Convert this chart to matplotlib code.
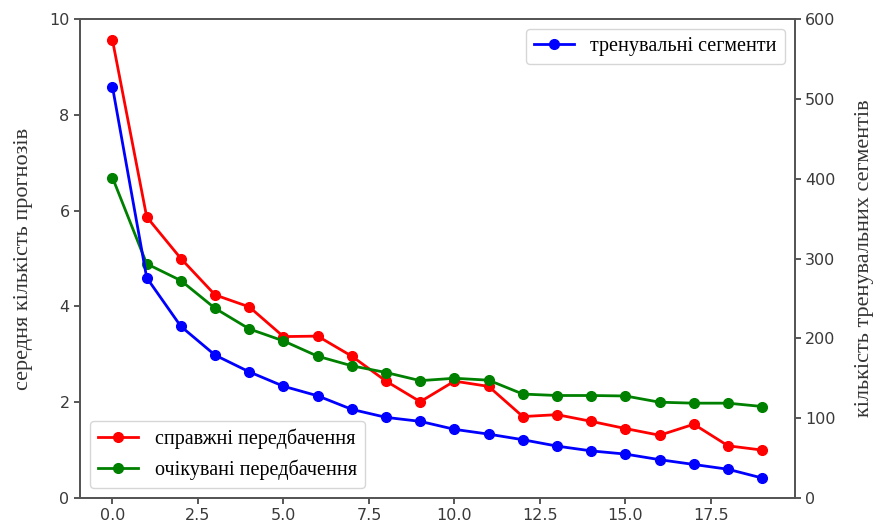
import matplotlib.pyplot as plt

# number of held-out steps on the x axis
steps = list(range(20))

# mean number of predictions (left axis)
real_preds = [9.56, 5.87, 5.00, 4.24, 3.99, 3.37, 3.38, 2.96, 2.44, 2.01,
              2.44, 2.33, 1.70, 1.74, 1.60, 1.45, 1.31, 1.54, 1.09, 1.00]
expected_preds = [6.69, 4.89, 4.54, 3.96, 3.53, 3.28, 2.96, 2.76, 2.62, 2.45,
                  2.50, 2.46, 2.17, 2.14, 2.14, 2.13, 2.00, 1.98, 1.98, 1.91]

# number of training segments (right axis)
train_segments = [515, 276, 215, 179, 158, 140, 128, 111, 101, 96,
                  86, 80, 73, 65, 59, 55, 48, 42, 36, 25]

serif = 'Liberation Serif'
tick_color = '#3a3a3a'

fig = plt.figure(figsize=(8.83, 5.30), dpi=100)
ax = fig.add_axes([0.0906, 0.0604, 0.8094, 0.9036])
ax2 = ax.twinx()

ax.plot(steps, real_preds, '-o', color='red', lw=2, ms=7, label='справжні передбачення')
ax.plot(steps, expected_preds, '-o', color='green', lw=2, ms=7, label='очікувані передбачення')
ax2.plot(steps, train_segments, '-o', color='blue', lw=2, ms=7, label='тренувальні сегменти')

ax.set_ylim(0, 10)
ax2.set_ylim(0, 600)
ax.set_xlim(-0.95, 19.95)

ax.set_ylabel('середня кількість прогнозів', family=serif, fontsize=16,
              color='#333333', labelpad=12)
ax2.set_ylabel('кількість тренувальних сегментів', family=serif, fontsize=16,
               color='#333333', labelpad=14)

for a in (ax, ax2):
    a.tick_params(colors=tick_color, labelsize=11.5, width=1.2, length=4)
    for s in a.spines.values():
        s.set_color('#555555')
        s.set_linewidth(1.3)

ax.legend(loc='lower left', prop={'family': serif, 'size': 14.5}, handlelength=2)
ax2.legend(loc='upper right', prop={'family': serif, 'size': 14.5}, handlelength=2)

fig.savefig('out.png', dpi=100)
